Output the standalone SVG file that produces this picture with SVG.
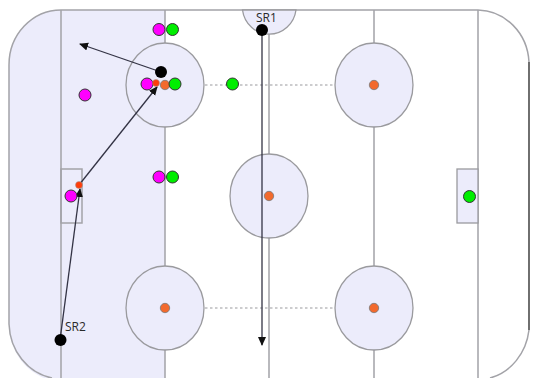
<svg xmlns="http://www.w3.org/2000/svg" width="536" height="378" viewBox="0 0 536 378">
<defs>
<marker id="ah" markerUnits="userSpaceOnUse" markerWidth="10" markerHeight="10" refX="8" refY="4" orient="auto"><path d="M0 0L9 4L0 8Z" fill="#111"/></marker>
</defs>
<style>
.ln{fill:none;stroke:#a3a3a8;stroke-width:1.5}
.zone{fill:#ececfb;stroke:#9a9a9e;stroke-width:1.3}
.dash{fill:none;stroke:#9a9a9e;stroke-width:1.2;stroke-dasharray:2.500 2.500}
.mag{fill:#ff00ff;stroke:#333;stroke-width:1}
.grn{fill:#00ee00;stroke:#333;stroke-width:1}
.org{fill:#f26a2e;stroke:#777;stroke-width:.8}
.red{fill:#ff3d0a;stroke:#999;stroke-width:.5}
.blk{fill:#000}
.arrow{fill:none;stroke:#333344;stroke-width:1.300;marker-end:url(#ah)}
.t{font-family:"Open Sans","Liberation Sans",sans-serif;font-size:12px;fill:#2a2a2a}
</style>
<rect width="536" height="378" fill="#fff"/>
<g id="rink">
<path d="M165 10H61A52 55 0 0 0 9 65V324A52 57 0 0 0 61 381H165Z" fill="#ececfb"/>
<path class="ln" d="M478 10H61A52 55 0 0 0 9 65V324A52 57 0 0 0 52 378"/>
<path class="ln" d="M478 10A52 55 0 0 1 529 62" stroke-width="1.2"/>
<path class="ln" d="M529 330A52 57 0 0 1 490 378" stroke-width="1.2"/>
<path d="M529 62V330" fill="none" stroke="#333" stroke-width="1.400"/>
<path class="ln" d="M61 10V378M165 10V378M269 10V378M374 10V378M478 10V378"/>
<path class="dash" d="M205 85H335M205 308H335"/>
</g>
<g id="zone-top"><path class="zone" d="M242.500 10A27 28 0 0 0 296 10Z"/></g>
<g id="crease-left"><rect class="ln" x="61" y="169" width="21" height="54" stroke-width="1.100"/></g>
<g id="crease-right"><rect class="zone" x="457" y="169" width="21" height="54"/></g>
<g id="circle-tl"><ellipse class="zone" cx="165" cy="85" rx="39" ry="42"/><circle class="org" cx="165" cy="85" r="4.700"/></g>
<g id="circle-tr"><ellipse class="zone" cx="374" cy="85" rx="39" ry="42"/><circle class="org" cx="374" cy="85" r="4.700"/></g>
<g id="circle-c"><ellipse class="zone" cx="269" cy="196" rx="39" ry="42"/><circle class="org" cx="269" cy="196" r="4.700"/></g>
<g id="circle-bl"><ellipse class="zone" cx="165" cy="308" rx="39" ry="42"/><circle class="org" cx="165" cy="308" r="4.700"/></g>
<g id="circle-br"><ellipse class="zone" cx="374" cy="308" rx="39" ry="42"/><circle class="org" cx="374" cy="308" r="4.700"/></g>
<g id="connectors">
<path class="arrow" d="M161 72L80 44"/>
<path class="arrow" d="M79 185L157 87"/>
<path class="arrow" d="M60 340L80 189"/>
<path class="arrow" d="M262 30V345"/>
</g>
<g id="players">
<circle class="mag" cx="159" cy="29.500" r="6"/>
<circle class="grn" cx="172.500" cy="29.500" r="6"/>
<circle class="mag" cx="147" cy="84" r="6"/>
<circle class="grn" cx="175" cy="84" r="6"/>
<circle class="grn" cx="232.500" cy="84" r="6"/>
<circle class="mag" cx="85" cy="95" r="6"/>
<circle class="mag" cx="159" cy="177" r="6"/>
<circle class="grn" cx="172.500" cy="177" r="6"/>
<circle class="mag" cx="71" cy="196" r="6"/>
<circle class="grn" cx="469.500" cy="196.500" r="6"/>
<circle class="red" cx="156" cy="83" r="3.500"/>
<circle class="red" cx="79" cy="185" r="3.500"/>
<circle class="blk" cx="161" cy="72" r="6"/>
</g>
<g id="SR1"><circle class="blk" cx="262" cy="30" r="6"/><text class="t" x="256" y="22">SR1</text></g>
<g id="SR2"><circle class="blk" cx="60.500" cy="340" r="6"/><text class="t" x="65" y="331">SR2</text></g>
</svg>
